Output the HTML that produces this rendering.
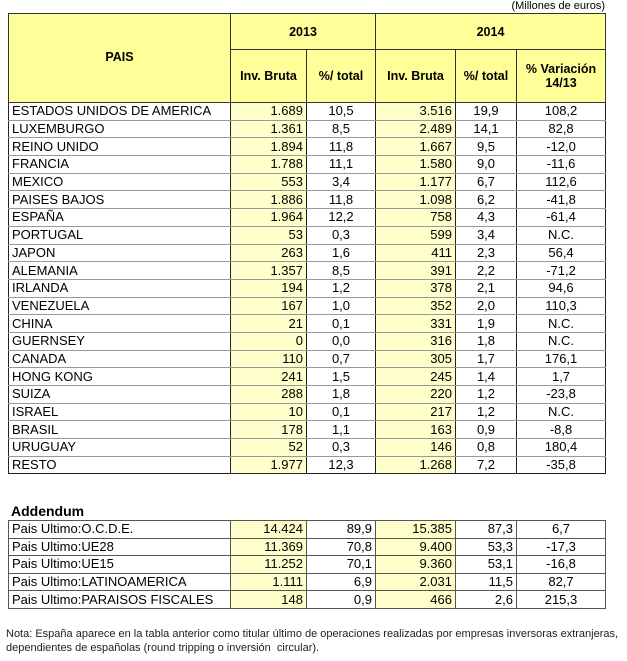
<!DOCTYPE html>
<html><head><meta charset="utf-8"><style>
body{margin:0;background:#fff;font-family:"Liberation Sans",Arial,sans-serif;color:#000;width:627px;height:661px;position:relative;overflow:hidden}
table{border-collapse:collapse;table-layout:fixed;position:absolute;left:8px}
td{font-size:13px;padding:0 3px;white-space:nowrap;overflow:hidden;line-height:14px}
#m td{height:16.7px;border-left:1px solid #222;border-right:1px solid #222;border-bottom:1px solid #999}
#m thead td{background:#ffff99;font-weight:bold;text-align:center;border:1px solid #333;font-size:12.5px;padding:0}
.y{background:#ffffcc;text-align:right}
.c{text-align:center}
#a td{height:16.6px;border:1px solid #555}
.t{position:absolute}
</style></head><body>
<div class="t" style="right:22px;top:0px;font-size:11px">(Millones de euros)</div>
<table id="m" style="top:13px;width:597px">
<colgroup><col style="width:222px"><col style="width:76px"><col style="width:69px"><col style="width:80px"><col style="width:61px"><col style="width:89px"></colgroup>
<thead>
<tr><td rowspan="2" style="vertical-align:top;padding-top:36px">PAIS</td><td colspan="2" style="height:35px">2013</td><td colspan="3">2014</td></tr>
<tr><td style="height:52px">Inv. Bruta</td><td>%/ total</td><td>Inv. Bruta</td><td>%/ total</td><td>% Variación<br>14/13</td></tr>
</thead>
<tbody>
<tr><td>ESTADOS UNIDOS DE AMERICA</td><td class="y">1.689</td><td class="c">10,5</td><td class="y">3.516</td><td class="c">19,9</td><td class="c">108,2</td></tr>
<tr><td>LUXEMBURGO</td><td class="y">1.361</td><td class="c">8,5</td><td class="y">2.489</td><td class="c">14,1</td><td class="c">82,8</td></tr>
<tr><td>REINO UNIDO</td><td class="y">1.894</td><td class="c">11,8</td><td class="y">1.667</td><td class="c">9,5</td><td class="c">-12,0</td></tr>
<tr><td>FRANCIA</td><td class="y">1.788</td><td class="c">11,1</td><td class="y">1.580</td><td class="c">9,0</td><td class="c">-11,6</td></tr>
<tr><td>MEXICO</td><td class="y">553</td><td class="c">3,4</td><td class="y">1.177</td><td class="c">6,7</td><td class="c">112,6</td></tr>
<tr><td>PAISES BAJOS</td><td class="y">1.886</td><td class="c">11,8</td><td class="y">1.098</td><td class="c">6,2</td><td class="c">-41,8</td></tr>
<tr><td>ESPAÑA</td><td class="y">1.964</td><td class="c">12,2</td><td class="y">758</td><td class="c">4,3</td><td class="c">-61,4</td></tr>
<tr><td>PORTUGAL</td><td class="y">53</td><td class="c">0,3</td><td class="y">599</td><td class="c">3,4</td><td class="c">N.C.</td></tr>
<tr><td>JAPON</td><td class="y">263</td><td class="c">1,6</td><td class="y">411</td><td class="c">2,3</td><td class="c">56,4</td></tr>
<tr><td>ALEMANIA</td><td class="y">1.357</td><td class="c">8,5</td><td class="y">391</td><td class="c">2,2</td><td class="c">-71,2</td></tr>
<tr><td>IRLANDA</td><td class="y">194</td><td class="c">1,2</td><td class="y">378</td><td class="c">2,1</td><td class="c">94,6</td></tr>
<tr><td>VENEZUELA</td><td class="y">167</td><td class="c">1,0</td><td class="y">352</td><td class="c">2,0</td><td class="c">110,3</td></tr>
<tr><td>CHINA</td><td class="y">21</td><td class="c">0,1</td><td class="y">331</td><td class="c">1,9</td><td class="c">N.C.</td></tr>
<tr><td>GUERNSEY</td><td class="y">0</td><td class="c">0,0</td><td class="y">316</td><td class="c">1,8</td><td class="c">N.C.</td></tr>
<tr><td>CANADA</td><td class="y">110</td><td class="c">0,7</td><td class="y">305</td><td class="c">1,7</td><td class="c">176,1</td></tr>
<tr><td>HONG KONG</td><td class="y">241</td><td class="c">1,5</td><td class="y">245</td><td class="c">1,4</td><td class="c">1,7</td></tr>
<tr><td>SUIZA</td><td class="y">288</td><td class="c">1,8</td><td class="y">220</td><td class="c">1,2</td><td class="c">-23,8</td></tr>
<tr><td>ISRAEL</td><td class="y">10</td><td class="c">0,1</td><td class="y">217</td><td class="c">1,2</td><td class="c">N.C.</td></tr>
<tr><td>BRASIL</td><td class="y">178</td><td class="c">1,1</td><td class="y">163</td><td class="c">0,9</td><td class="c">-8,8</td></tr>
<tr><td>URUGUAY</td><td class="y">52</td><td class="c">0,3</td><td class="y">146</td><td class="c">0,8</td><td class="c">180,4</td></tr>
<tr><td style="border-bottom:1px solid #222">RESTO</td><td class="y" style="border-bottom:1px solid #222">1.977</td><td class="c" style="border-bottom:1px solid #222">12,3</td><td class="y" style="border-bottom:1px solid #222">1.268</td><td class="c" style="border-bottom:1px solid #222">7,2</td><td class="c" style="border-bottom:1px solid #222">-35,8</td></tr>
</tbody></table>
<div class="t" style="left:11px;top:503px;font-size:14px;font-weight:bold">Addendum</div>
<table id="a" style="top:520px;width:597px">
<colgroup><col style="width:222px"><col style="width:76px"><col style="width:69px"><col style="width:80px"><col style="width:61px"><col style="width:89px"></colgroup>
<tr><td>Pais Ultimo:O.C.D.E.</td><td class="y">14.424</td><td style="text-align:right">89,9</td><td class="y">15.385</td><td style="text-align:right">87,3</td><td class="c">6,7</td></tr>
<tr><td>Pais Ultimo:UE28</td><td class="y">11.369</td><td style="text-align:right">70,8</td><td class="y">9.400</td><td style="text-align:right">53,3</td><td class="c">-17,3</td></tr>
<tr><td>Pais Ultimo:UE15</td><td class="y">11.252</td><td style="text-align:right">70,1</td><td class="y">9.360</td><td style="text-align:right">53,1</td><td class="c">-16,8</td></tr>
<tr><td>Pais Ultimo:LATINOAMERICA</td><td class="y">1.111</td><td style="text-align:right">6,9</td><td class="y">2.031</td><td style="text-align:right">11,5</td><td class="c">82,7</td></tr>
<tr><td>Pais Ultimo:PARAISOS FISCALES</td><td class="y">148</td><td style="text-align:right">0,9</td><td class="y">466</td><td style="text-align:right">2,6</td><td class="c">215,3</td></tr>
</table>
<div class="t" style="left:6px;top:627px;font-size:11px;line-height:14px;color:#222">Nota: España aparece en la tabla anterior como titular último de operaciones realizadas por empresas inversoras extranjeras,<br>dependientes de españolas (round tripping o inversión&nbsp; circular).</div>
</body></html>
